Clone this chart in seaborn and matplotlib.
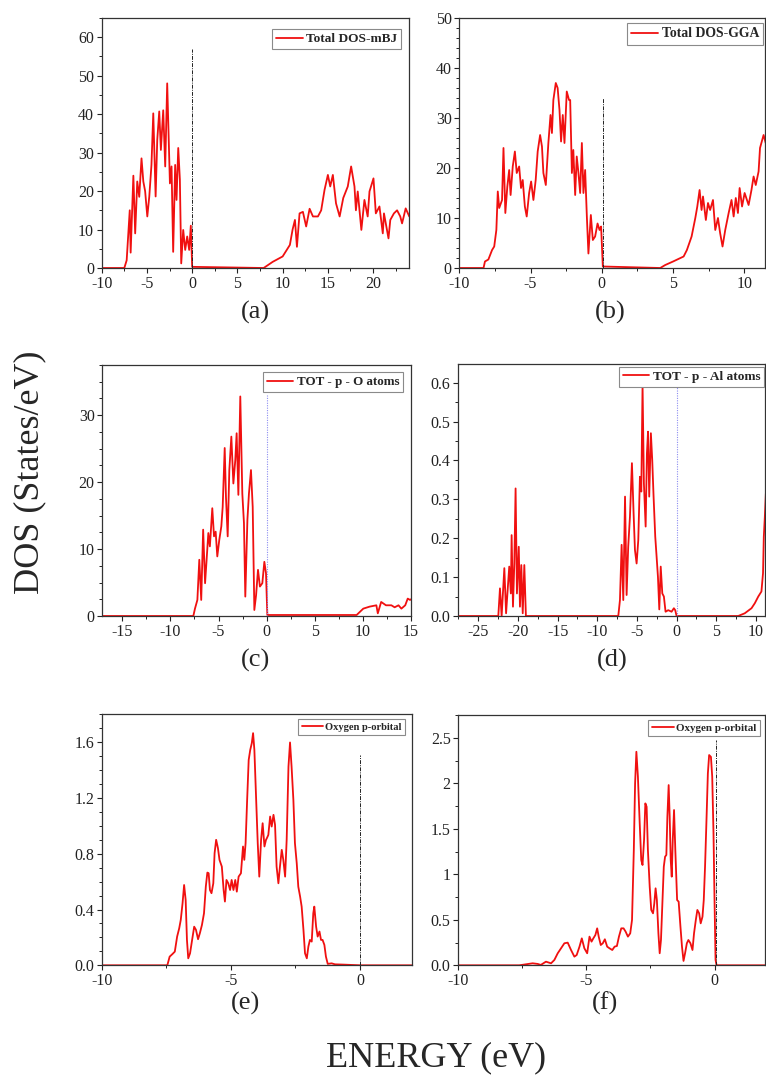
import numpy as np
import pandas as pd
import matplotlib
matplotlib.use("Agg")
import matplotlib.pyplot as plt
from matplotlib.ticker import MultipleLocator, FixedLocator, FixedFormatter
import seaborn as sns

# ---------------- data ----------------
# (a) total DOS, mBJ
a_energy = [-10, -7.5, -7.24, -6.9, -6.8, -6.5, -6.3, -6.07, -5.85, -5.6, -5.4, -5.2, -4.96, -4.74,
            -4.5, -4.3, -4.04, -3.86, -3.64, -3.46, -3.2, -2.98, -2.76, -2.46, -2.28, -2.1, -1.88,
            -1.73, -1.54, -1.36, -1.21, -0.99, -0.77, -0.55, -0.33, -0.15, 0.0,
            7.9, 8.9, 10.0, 10.8, 11.1, 11.36, 11.58, 11.87, 12.24, 12.6, 12.98, 13.35, 13.9, 14.26,
            14.63, 15.0, 15.26, 15.55, 15.9, 16.3, 16.7, 17.2, 17.57, 17.94, 18.1, 18.3, 18.7,
            19.04, 19.4, 19.6, 20.04, 20.3, 20.7, 21.07, 21.2, 21.7, 21.9, 22.3, 22.65, 23.0,
            23.2, 23.6, 24.0]
a_dos = [0, 0, 2, 15, 4, 24, 9, 22.5, 18.5, 28.5, 22.5, 20, 13.4, 18.6,
         26.8, 40.2, 18.6, 33.3, 40.7, 30.7, 41, 26.4, 48, 22, 26.4, 4.2, 26.8,
         17.7, 31.2, 23, 1.2, 9.9, 4.7, 8.2, 4.7, 11, 0.3,
         0, 1.6, 3, 6, 10, 12.5, 5.5, 14.2, 14.6, 10.8, 15.4, 13.4, 13.4, 15,
         20.3, 24.2, 21.2, 24.2, 16.8, 13.4, 18.2, 21.2, 26.4, 21.2, 15, 19.9, 9.9,
         17.7, 13.4, 19.9, 23.3, 14.2, 16, 9, 14.2, 7.7, 12.5, 14.2, 15, 13.4,
         11.6, 15.5, 13.4]

# (b) total DOS, GGA
b_energy = [-10, -8.3, -8.2, -7.96, -7.7, -7.55, -7.4, -7.3, -7.2, -7.0, -6.9, -6.77, -6.63, -6.5,
            -6.4, -6.25, -6.1, -5.97, -5.8, -5.67, -5.55, -5.4, -5.27, -5.1, -4.96, -4.8, -4.64,
            -4.5, -4.33, -4.2, -4.1, -3.93, -3.75, -3.6, -3.5, -3.4, -3.23, -3.1, -2.97, -2.86,
            -2.74, -2.62, -2.46, -2.3, -2.22, -2.1, -2.0, -1.87, -1.76, -1.64, -1.52, -1.4, -1.29,
            -1.17, -1.05, -0.94, -0.77, -0.63, -0.47, -0.3, -0.16, -0.05, 0.07,
            4.1, 4.45, 5.0, 5.74, 5.97, 6.3, 6.56, 6.7, 6.86, 7.0, 7.1, 7.3, 7.45, 7.6, 7.8,
            7.96, 8.15, 8.3, 8.47, 8.66, 8.9, 9.1, 9.25, 9.4, 9.55, 9.67, 9.84, 10.02, 10.3,
            10.5, 10.65, 10.8, 11.0, 11.1, 11.35, 11.5]
b_dos = [0, 0, 1.3, 1.7, 3.6, 4.3, 7.6, 15.3, 12, 13.6, 24, 11, 16.3, 19.6,
         14.6, 20.3, 23.3, 19, 20.3, 16, 17.6, 12.3, 10.3, 15, 17.3, 13.6, 17.6,
         23.3, 26.6, 24.3, 19, 16.6, 25, 30.6, 27, 33.6, 37, 36, 31.6, 25.3,
         30.6, 25, 35.3, 33.6, 33.6, 19, 23.6, 14.6, 22.3, 19, 15, 25, 15,
         19.6, 10.3, 2.9, 10.6, 5.6, 6.3, 8.9, 7.6, 8.3, 0.3,
         0, 0.6, 1.3, 2.3, 3.6, 6.3, 10, 12.3, 15.6, 11.6, 14.3, 9.6, 13, 11.6, 13.6,
         7.6, 10, 7, 4.3, 7.6, 11, 13.6, 10.3, 14, 11, 16, 12.3, 15, 12.6,
         15.6, 18.3, 16.6, 19.3, 24, 26.6, 25]

# (c) total p states of O atoms
c_energy = [-17.1, -7.62, -7.45, -7.2, -7.0, -6.8, -6.6, -6.4, -6.24, -6.06, -5.9, -5.65, -5.47,
            -5.3, -5.13, -4.92, -4.71, -4.57, -4.36, -4.23, -4.05, -3.88, -3.67, -3.46, -3.26,
            -3.12, -2.94, -2.74, -2.53, -2.36, -2.22, -2.0, -1.84, -1.63, -1.45, -1.28, -1.1,
            -0.9, -0.7, -0.45, -0.24, -0.07, 0.07,
            9.35, 10.04, 10.7, 11.4, 11.55, 11.9, 12.4, 12.96, 13.3, 13.7, 14.0, 14.4, 14.66, 14.9, 15.0]
c_dos = [0, 0, 1.1, 2.4, 8.4, 2.4, 12.9, 4.9, 8.4, 12.4, 10.4, 16.1, 11.9,
         12.6, 8.9, 11.4, 13.4, 16.3, 25.1, 17.8, 11.9, 21.8, 26.8, 19.8, 23.3,
         27.3, 18.1, 32.8, 18.3, 13.9, 2.9, 14.4, 18.3, 21.8, 16.3, 0.9, 3.1,
         6.9, 4.4, 4.9, 8.1, 6.4, 0.15,
         0.15, 1.1, 1.4, 1.6, 0.4, 2.1, 1.6, 1.6, 1.3, 1.6, 1.1, 1.6, 2.6, 2.4, 2.5]

# (d) total p states of Al atoms
d_energy = [-27.6, -22.48, -22.27, -22.06, -21.72, -21.5, -21.3, -21.1, -20.9, -20.8, -20.63,
            -20.46, -20.3, -20.13, -19.9, -19.75, -19.58, -19.4, -19.2, -19.0,
            -7.35, -7.14, -6.93, -6.72, -6.5, -6.3, -6.1, -5.88, -5.63, -5.42, -5.25, -5.04,
            -4.83, -4.62, -4.45, -4.29, -4.12, -3.9, -3.74, -3.6, -3.45, -3.24, -3.07, -2.9,
            -2.69, -2.52, -2.35, -2.18, -2.0, -1.8, -1.6, -1.39, -1.05, -0.63, -0.34, -0.17, 0.0,
            7.77, 8.6, 9.45, 9.87, 10.3, 10.7, 10.9, 11.0, 11.13, 11.26]
d_dos = [0, 0, 0.071, 0.0, 0.123, 0.007, 0.067, 0.127, 0.058, 0.208, 0.024,
         0.135, 0.328, 0.058, 0.178, 0.024, 0.131, 0.007, 0.131, 0.0,
         0, 0.041, 0.183, 0.041, 0.307, 0.054, 0.178, 0.255, 0.393, 0.264, 0.17, 0.135,
         0.195, 0.358, 0.32, 0.594, 0.341, 0.23, 0.418, 0.474, 0.307, 0.47, 0.401, 0.307,
         0.204, 0.153, 0.101, 0.017, 0.127, 0.058, 0.05, 0.011, 0.015, 0.011, 0.02, 0.015, 0.0,
         0, 0.007, 0.02, 0.033, 0.05, 0.063, 0.11, 0.204, 0.255, 0.315]

# (e) oxygen p orbital
e_energy = [-10, -7.46, -7.37, -7.26, -7.17, -7.08, -7.0, -6.94, -6.87, -6.81, -6.75, -6.7, -6.65,
            -6.58, -6.5, -6.42, -6.35, -6.27, -6.2, -6.12, -6.04, -5.97, -5.91, -5.86, -5.81,
            -5.75, -5.68, -5.63, -5.57, -5.5, -5.44, -5.35, -5.28, -5.23, -5.17, -5.1, -5.03,
            -4.97, -4.9, -4.83, -4.77, -4.7, -4.61, -4.53, -4.48, -4.43, -4.37, -4.31, -4.25,
            -4.19, -4.14, -4.09, -4.03, -3.96, -3.9, -3.83, -3.77, -3.7, -3.64, -3.61, -3.55,
            -3.48, -3.42, -3.35, -3.29, -3.23, -3.16, -3.1, -3.03, -2.97, -2.9, -2.84, -2.77,
            -2.71, -2.65, -2.58, -2.52, -2.45, -2.39, -2.32, -2.26, -2.19, -2.13, -2.06, -2.0,
            -1.94, -1.87, -1.81, -1.77, -1.7, -1.64, -1.57, -1.51, -1.45, -1.38, -1.32, -1.25,
            -1.1, -0.97, -0.65, -0.26, 0.0, 2.0]
e_dos = [0, 0, 0.062, 0.081, 0.098, 0.206, 0.265, 0.325, 0.445, 0.576, 0.469, 0.182, 0.05,
         0.086, 0.182, 0.277, 0.254, 0.187, 0.23, 0.289, 0.373, 0.564, 0.665, 0.66, 0.54,
         0.517, 0.588, 0.804, 0.9, 0.84, 0.756, 0.708, 0.54, 0.457, 0.612, 0.588, 0.54,
         0.612, 0.54, 0.612, 0.528, 0.636, 0.66, 0.852, 0.756, 0.876, 1.186, 1.473, 1.545,
         1.593, 1.665, 1.545, 1.234, 0.876, 0.636, 0.9, 1.019, 0.852, 0.9, 0.91, 0.935,
         1.067, 0.995, 1.079, 1.007, 0.708, 0.588, 0.708, 0.828, 0.756, 0.636, 0.9, 1.425,
         1.598, 1.425, 1.186, 0.876, 0.732, 0.564, 0.493, 0.421, 0.254, 0.086, 0.05, 0.134,
         0.182, 0.17, 0.373, 0.421, 0.277, 0.206, 0.242, 0.182, 0.182, 0.146, 0.062, 0.01,
         0.014, 0.007, 0.005, 0.002, 0.0, 0.0]

# (f) oxygen p orbital
f_energy = [-10, -7.62, -7.36, -7.1, -6.9, -6.78, -6.58, -6.38, -6.25, -6.12, -5.99, -5.86, -5.73,
            -5.6, -5.47, -5.38, -5.27, -5.18, -5.08, -4.97, -4.88, -4.8, -4.73, -4.65, -4.58,
            -4.52, -4.44, -4.36, -4.28, -4.19, -4.1, -3.99, -3.9, -3.81, -3.73, -3.64, -3.55,
            -3.47, -3.38, -3.29, -3.22, -3.15, -3.1, -3.05, -2.99, -2.92, -2.86, -2.81, -2.75,
            -2.7, -2.65, -2.6, -2.53, -2.47, -2.4, -2.35, -2.3, -2.25, -2.19, -2.14, -2.09,
            -2.04, -1.98, -1.93, -1.88, -1.84, -1.79, -1.75, -1.71, -1.67, -1.63, -1.58, -1.53,
            -1.46, -1.4, -1.33, -1.27, -1.21, -1.15, -1.08, -1.02, -0.94, -0.86, -0.8, -0.73,
            -0.67, -0.6, -0.54, -0.47, -0.42, -0.37, -0.31, -0.26, -0.21, -0.14, -0.09, -0.04,
            0.0, 0.04, 0.08, 2.0]
f_dos = [0, 0, 0.011, 0.022, 0.015, 0.004, 0.04, 0.022, 0.059, 0.132, 0.187, 0.242, 0.249,
         0.168, 0.095, 0.113, 0.205, 0.296, 0.187, 0.132, 0.315, 0.26, 0.296, 0.333, 0.406,
         0.315, 0.223, 0.242, 0.286, 0.205, 0.187, 0.168, 0.205, 0.212, 0.315, 0.406, 0.406,
         0.37, 0.315, 0.351, 0.498, 1.266, 1.999, 2.346, 2.072, 1.559, 1.157, 1.102, 1.376,
         1.779, 1.742, 1.266, 0.864, 0.608, 0.571, 0.681, 0.846, 0.717, 0.351, 0.132, 0.278,
         0.644, 1.083, 1.193, 1.212, 1.632, 1.98, 1.632, 1.157, 0.974, 1.376, 1.706, 1.266,
         0.717, 0.699, 0.425, 0.205, 0.048, 0.132, 0.242, 0.278, 0.242, 0.168, 0.351, 0.498,
         0.608, 0.571, 0.461, 0.534, 0.717, 1.083, 1.632, 2.108, 2.31, 2.29, 2.072, 1.449,
         0.717, 0.059, 0.0, 0.0]

# ---------------- style ----------------
sns.set_theme(style="ticks")
plt.rcParams["font.family"] = ["Liberation Serif", "DejaVu Serif"]
plt.rcParams["axes.unicode_minus"] = False
plt.rcParams["axes.edgecolor"] = "#333333"
plt.rcParams["axes.linewidth"] = 0.9

W, H = 766, 1082
fig = plt.figure(figsize=(W / 100, H / 100), dpi=100)
fig.patch.set_facecolor("white")

RED = "#f01010"


def px_axes(left, right, top, bottom):
    return fig.add_axes([left / W, 1 - bottom / H, (right - left) / W, (bottom - top) / H])


panels = [
    dict(box=(101.7, 409.3, 18, 268), x=a_energy, y=a_dos, xlim=(-10, 24), ylim=(0, 65),
         xmaj=5, xmin=2.5, ymaj=10, ymin=5, fermi=(0.0, 57), fstyle="dashdot",
         label="Total DOS-mBJ", lfs=9.6, leg=(401, 29), tag="(a)", tagpos=(255, 312)),
    dict(box=(459.3, 765, 18, 268), x=b_energy, y=b_dos, xlim=(-10, 11.45), ylim=(0, 50),
         xmaj=5, xmin=2.5, ymaj=10, ymin=2, fermi=(0.1, 34), fstyle="dashdot",
         label="Total DOS-GGA", lfs=9.9, leg=(763.3, 23.3), tag="(b)", tagpos=(610, 312)),
    dict(box=(102.3, 411, 365, 616), x=c_energy, y=c_dos, xlim=(-17.08, 15), ylim=(0, 37.5),
         xmaj=5, xmin=2.5, ymaj=10, ymin=2.5, fermi=(0.0, 33), fstyle="dotted",
         label="TOT - p - O atoms", lfs=9.4, leg=(403.3, 372.3), tag="(c)", tagpos=(255, 660)),
    dict(box=(457.7, 765, 364, 616), x=d_energy, y=d_dos, xlim=(-27.6, 11.15), ylim=(0, 0.648),
         xmaj=5, xmin=2.5, ymaj=0.1, ymin=0.05, fermi=(0.0, 0.59), fstyle="dotted",
         label="TOT - p - Al atoms", lfs=9.6, leg=(764.3, 366.7), tag="(d)", tagpos=(612, 660),
         yfmt="%.1f"),
    dict(box=(101.7, 411.7, 714.3, 965.3), x=e_energy, y=e_dos, xlim=(-10, 2), ylim=(0, 1.8),
         xmaj=5, xmin=2.5, ymaj=0.4, ymin=0.1, fermi=(0.0, 1.51), fstyle="dashdot",
         label="Oxygen p-orbital", lfs=7.6, leg=(405, 719), tag="(e)", tagpos=(245, 1003),
         yfmt="%.1f"),
    dict(box=(458.3, 765, 715, 965.3), x=f_energy, y=f_dos, xlim=(-10, 1.97), ylim=(0, 2.75),
         xmaj=5, xmin=2.5, ymaj=0.5, ymin=0.25, fermi=(0.05, 2.48), fstyle="dashdot",
         label="Oxygen p-orbital", lfs=7.9, leg=(760, 720), tag="(f)", tagpos=(605, 1003),
         ylabels=["0.0", "0.5", "1", "1.5", "2", "2.5"]),
]

for p in panels:
    ax = px_axes(*p["box"])
    df = pd.DataFrame({"Energy": p["x"], "DOS": p["y"]})
    sns.lineplot(data=df, x="Energy", y="DOS", ax=ax, color=RED, linewidth=1.3,
                 sort=False, estimator=None, label=p["label"])
    fx, ftop = p["fermi"]
    if p["fstyle"] == "dashdot":
        ax.vlines(fx, 0, ftop, colors="#222222", linestyles=(0, (4, 1.2, 1, 1.2)), linewidth=0.7)
    else:
        ax.vlines(fx, 0, ftop, colors="#8c8cf0", linestyles=(0, (1, 1.2)), linewidth=0.8)
    ax.set_xlim(*p["xlim"])
    ax.set_ylim(*p["ylim"])
    ax.set_xlabel("")
    ax.set_ylabel("")
    ax.xaxis.set_major_locator(MultipleLocator(p["xmaj"]))
    ax.xaxis.set_minor_locator(MultipleLocator(p["xmin"]))
    if "ylabels" in p:
        vals = [0, 0.5, 1, 1.5, 2, 2.5]
        ax.yaxis.set_major_locator(FixedLocator(vals))
        ax.yaxis.set_major_formatter(FixedFormatter(p["ylabels"]))
    else:
        ax.yaxis.set_major_locator(MultipleLocator(p["ymaj"]))
        if "yfmt" in p:
            ax.yaxis.set_major_formatter(matplotlib.ticker.FormatStrFormatter(p["yfmt"]))
        else:
            ax.yaxis.set_major_formatter(matplotlib.ticker.FormatStrFormatter("%d"))
    ax.yaxis.set_minor_locator(MultipleLocator(p["ymin"]))
    ax.tick_params(axis="both", which="major", direction="out", length=3.5, width=0.8,
                   labelsize=11.5, pad=2, colors="#222222")
    ax.tick_params(axis="both", which="minor", direction="out", length=2, width=0.7,
                   colors="#222222")
    ax.tick_params(top=False, right=False, which="both")
    for s in ax.spines.values():
        s.set_visible(True)

    # legend anchored at the frame's upper-right corner (pixel position)
    lx, ly = p["leg"]
    leg = ax.legend(loc="upper right", bbox_to_anchor=(lx / W, 1 - ly / H),
                    bbox_transform=fig.transFigure, borderaxespad=0, frameon=True,
                    fancybox=False, edgecolor="#8a8a8a", framealpha=1,
                    prop={"family": ["Liberation Serif"], "weight": "bold", "size": p["lfs"]},
                    handlelength=2.0, handletextpad=0.25, borderpad=0.3)
    leg.get_frame().set_linewidth(0.8)

    tx, ty = p["tagpos"]
    fig.text(tx / W, 1 - ty / H, p["tag"], ha="center", va="center", fontsize=19)

fig.text(436 / W, 1 - 1058 / H, "ENERGY (eV)", ha="center", va="center", fontsize=26)
fig.text(30 / W, 1 - 472 / H, "DOS (States/eV)", ha="center", va="center", fontsize=26,
         rotation=90)

fig.savefig("out.png", dpi=100, facecolor="white")
